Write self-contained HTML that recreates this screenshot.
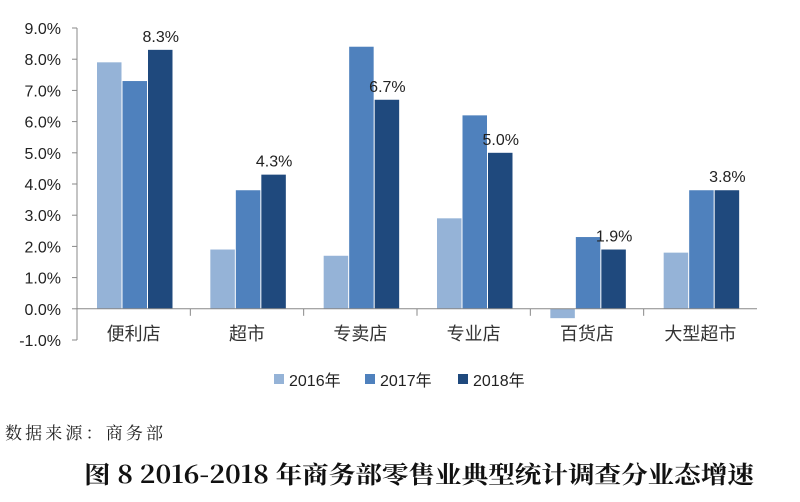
<!DOCTYPE html>
<html><head><meta charset="utf-8"><style>
body{margin:0;background:#fff;width:800px;height:497px;overflow:hidden;font-family:"Liberation Sans","Noto Sans CJK SC",sans-serif;}
</style></head><body>
<svg id="chart" width="800" height="497" xmlns="http://www.w3.org/2000/svg" font-family="Liberation Sans, Noto Sans CJK SC, sans-serif">
<g id="plot"></g>
<text x="5" y="439" font-size="17" fill="#222" font-family="Noto Serif CJK SC, serif" textLength="158">数据来源：商务部</text>
<text x="84" y="483" font-size="24" font-weight="bold" fill="#111" font-family="Noto Serif CJK SC, serif" textLength="670" lengthAdjust="spacingAndGlyphs">图 8 2016-2018 年商务部零售业典型统计调查分业态增速</text>
</svg>
<script>
const categories=["便利店","超市","专卖店","专业店","百货店","大型超市"];
const seriesNames=["2016年","2017年","2018年"];
const s2016=[7.9,1.9,1.7,2.9,-0.3,1.8];
const s2017=[7.3,3.8,8.4,6.2,2.3,3.8];
const s2018=[8.3,4.3,6.7,5.0,1.9,3.8];
const yTicks=[-1,0,1,2,3,4,5,6,7,8,9];
const colors=["#95b3d7","#4f81bd","#1f497d"];
const series=[s2016,s2017,s2018];
const NS="http://www.w3.org/2000/svg";
const g=document.getElementById('plot');
const x0=77,x1=757,yTop=28,yBot=340,vMin=-1,vMax=9;
const y=v=>yBot-(v-vMin)/(vMax-vMin)*(yBot-yTop);
const gw=(x1-x0)/categories.length, bw=25.5, off=20;
function mk(t,a){const e=document.createElementNS(NS,t);for(const k in a)e.setAttribute(k,a[k]);g.appendChild(e);return e;}
let ax=mk('line',{x1:x0,y1:yTop,x2:x0,y2:yBot,stroke:'#888'});


yTicks.forEach(v=>{
 let t=mk('line',{x1:x0-5,x2:x0,y1:y(v),y2:y(v),stroke:'#888'});
 
 
 let l=mk('text',{x:61,y:y(v)+6,'font-size':16,'text-anchor':'end',fill:'#222'});
 l.textContent=v.toFixed(1)+'%';
 
 
});
categories.forEach((c,i)=>{
 const gx=x0+i*gw;
 series.forEach((s,j)=>{
  const v=s[i];
  let r=mk('rect',{x:gx+off+j*bw,y:Math.min(y(v),y(0)),width:bw-1,height:Math.abs(y(v)-y(0)),fill:colors[j]});
  
  
 });
 let lv=mk('text',{x:gx+off+2*bw+bw/2,y:y(s2018[i])-8,'font-size':16,'text-anchor':'middle',fill:'#222'});
 lv.textContent=s2018[i].toFixed(1)+'%';
 
 
 let cl=mk('text',{x:gx+gw/2,y:340,'font-size':18,'text-anchor':'middle',fill:'#333'});
 cl.textContent=c;
 
 
 if(i>0){let ct=mk('line',{x1:gx,x2:gx,y1:y(0),y2:y(0)+7,stroke:'#888'});
 
 }
});
let xa=mk('line',{x1:x0,x2:x1,y1:y(0),y2:y(0),stroke:'#888'});


const lx=[274,365,458];
seriesNames.forEach((n,j)=>{
 let r=mk('rect',{x:lx[j],y:374,width:10,height:10,fill:colors[j]});
 
 
 let t=mk('text',{x:lx[j]+15,y:386,'font-size':16,fill:'#222'});
 t.textContent=n;
 
 
});
</script>
</body></html>
